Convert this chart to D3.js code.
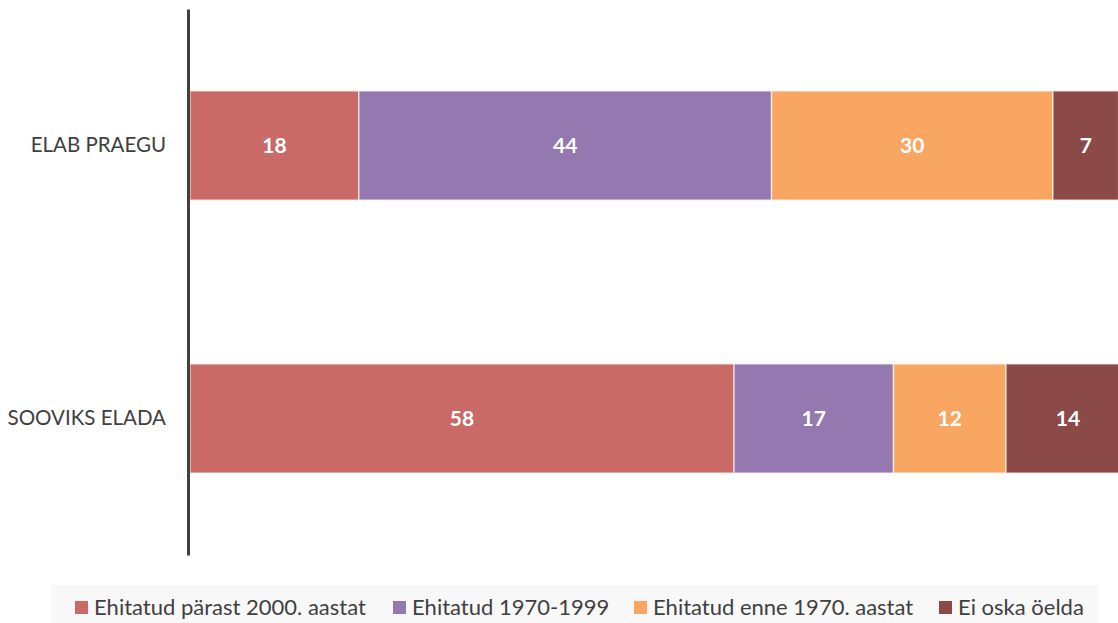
<!DOCTYPE html>
<html>
<head>
<meta charset="utf-8">
<script src="https://cdn.jsdelivr.net/npm/d3@7"></script>
<style>
  body { margin: 0; background: #fff; }
  svg { display: block; font-family: Lato, "Open Sans", sans-serif; }
</style>
</head>
<body>
<div class="canvas"></div>
<script>
// data
const categories = ["ELAB PRAEGU", "SOOVIKS ELADA"];
const seriesNames = [
  "Ehitatud pärast 2000. aastat",
  "Ehitatud 1970-1999",
  "Ehitatud enne 1970. aastat",
  "Ei oska öelda"
];
const after2000 = [18, 58];
const from1970to1999 = [44, 17];
const before1970 = [30, 12];
const dontKnow = [7, 14];
const colors = ["#c96a67", "#9479b0", "#f8a662", "#8b4a48"];

const dims = { width: 1118, height: 623 };

const svg = d3
  .select(".canvas")
  .append("svg")
  .attr("width", dims.width)
  .attr("height", dims.height);

const rows = categories.map((c, i) => ({
  cat: c,
  s0: after2000[i],
  s1: from1970to1999[i],
  s2: before1970[i],
  s3: dontKnow[i]
}));
const keys = ["s0", "s1", "s2", "s3"];
const stack = d3.stack().keys(keys)(rows);

// scales
const x = d3.scaleLinear().domain([0, 100]).range([190, 1128]);
const y = d3
  .scaleBand()
  .domain(categories)
  .range([9, 555])
  .paddingInner(0.6)
  .paddingOuter(0.3);

// bars
const layers = svg
  .selectAll("g.layer")
  .data(stack)
  .enter()
  .append("g")
  .attr("class", "layer")
  .attr("fill", (d, i) => colors[i]);

layers
  .selectAll("rect")
  .data(d => d)
  .enter()
  .append("rect")
  .attr("x", d => x(d[0]))
  .attr("y", d => y(d.data.cat))
  .attr("width", d => x(d[1]) - x(d[0]))
  .attr("height", y.bandwidth())
  .attr("stroke", "#fff")
  .attr("stroke-opacity", 0.6)
  .attr("stroke-width", 1.5);

// value labels
layers
  .selectAll("text")
  .data(d => d)
  .enter()
  .append("text")
  .attr("x", d => (x(d[0]) + Math.min(x(d[1]), dims.width + 12)) / 2)
  .attr("y", d => y(d.data.cat) + y.bandwidth() / 2)
  .attr("dy", "0.36em")
  .attr("text-anchor", "middle")
  .attr("fill", "#fff")
  .attr("font-weight", "bold")
  .attr("font-size", 21)
  .text(d => d[1] - d[0]);

// category axis
const yAxis = d3.axisLeft(y).tickSize(0).tickPadding(22);
const axisG = svg.append("g").attr("transform", "translate(188,0)").call(yAxis);
axisG.select(".domain").attr("stroke", "#404040").attr("stroke-width", 3);
axisG
  .selectAll("text")
  .attr("font-family", "Lato, sans-serif")
  .attr("font-size", 20.5)
  .attr("fill", "#404040");

// legend
const legend = svg.append("g");
legend
  .append("rect")
  .attr("x", 51)
  .attr("y", 585)
  .attr("width", 1047)
  .attr("height", 38)
  .attr("fill", "#f8f8f8");

const legendX = [75, 393, 634, 939];
const items = legend
  .selectAll("g.item")
  .data(seriesNames)
  .enter()
  .append("g")
  .attr("class", "item")
  .attr("transform", (d, i) => `translate(${legendX[i]}, 607.5)`);

items
  .append("rect")
  .attr("x", 0)
  .attr("y", -6.5)
  .attr("width", 13)
  .attr("height", 13)
  .attr("fill", (d, i) => colors[i]);

items
  .append("text")
  .attr("x", 19)
  .attr("y", 0)
  .attr("dy", "0.36em")
  .attr("font-size", 22)
  .attr("fill", "#404040")
  .text(d => d);
</script>
</body>
</html>
